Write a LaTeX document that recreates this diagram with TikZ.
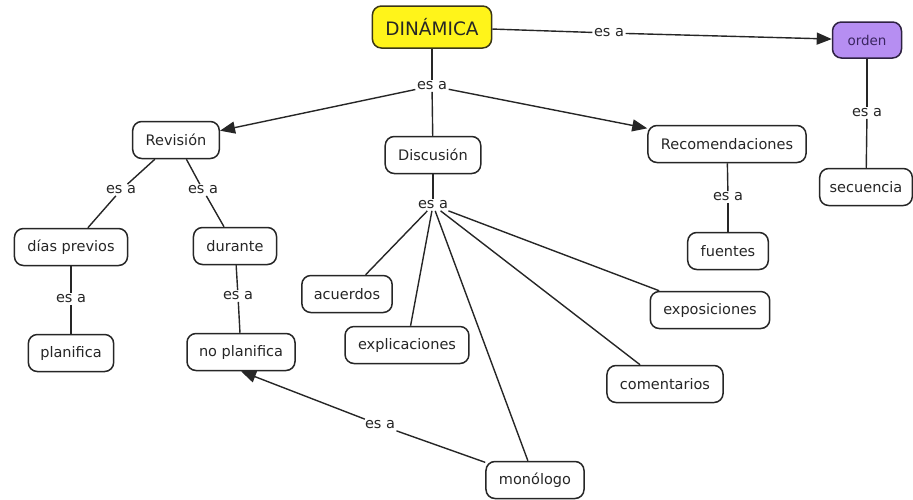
\documentclass[tikz,border=0pt]{standalone}
\usepackage{fontspec}
\setmainfont{DejaVu Sans}
\usetikzlibrary{arrows.meta}
\definecolor{ink}{HTML}{262626}
\definecolor{yellowfill}{HTML}{FFF41A}
\definecolor{yellowline}{HTML}{3A3615}
\definecolor{purplefill}{HTML}{B68EF2}
\definecolor{purpleline}{HTML}{2E2142}
\definecolor{purpletext}{HTML}{3A2560}
\begin{document}
\begin{tikzpicture}[x=1pt,y=-1pt,
  concept/.style={draw=ink, line width=1.5pt, rounded corners=9pt, fill=white,
    text=ink, font=\fontsize{14.5}{17}\selectfont, inner xsep=13pt, inner ysep=0pt,
    minimum height=37pt},
  linkword/.style={text=ink, font=\fontsize{14.5}{17}\selectfont, inner sep=1.5pt},
  conn/.style={draw=ink, line width=1.4pt},
  arr/.style={conn, -{Triangle[length=15pt,width=12pt]}}]
\useasboundingbox (0,0) rectangle (913,499);

% concepts
\node[concept, fill=yellowfill, draw=yellowline, font=\fontsize{18.5}{21}\selectfont,
      minimum width=119pt, minimum height=42pt] (din) at (432,27) {DINÁMICA};
\node[concept, fill=purplefill, draw=purpleline, text=purpletext,
      font=\fontsize{13.5}{16}\selectfont, minimum width=69pt, minimum height=36pt] (ord) at (867,40) {orden};
\node[concept] (rev) at (176,140) {Revisión};
\node[concept] (dis) at (433,155) {Discusión};
\node[concept] (rec) at (727,144) {Recomendaciones};
\node[concept, inner xsep=10pt] (sec) at (866,187) {secuencia};
\node[concept] (dias) at (71,247) {días previos};
\node[concept] (dur) at (235,246) {durante};
\node[concept] (fue) at (728,251) {fuentes};
\node[concept, inner xsep=12pt] (acu) at (347,294) {acuerdos};
\node[concept] (expl) at (407,345) {explicaciones};
\node[concept] (expo) at (710,310) {exposiciones};
\node[concept, inner xsep=12pt] (plan) at (71,353) {planifica};
\node[concept, inner xsep=12pt] (noplan) at (241,352) {no planifica};
\node[concept] (com) at (665,384) {comentarios};
\node[concept] (mon) at (535,480) {monólogo};

% linking phrases
\node[linkword] (l1) at (609,33) {es a};
\node[linkword] (l2) at (432,86) {es a};
\node[linkword] (l3) at (121,190) {es a};
\node[linkword] (l4) at (203,190) {es a};
\node[linkword] (l5) at (71,299) {es a};
\node[linkword] (l6) at (238,296) {es a};
\node[linkword] (l7) at (433,205) {es a};
\node[linkword] (l8) at (728,197) {es a};
\node[linkword] (l9) at (867,113) {es a};
\node[linkword] (l10) at (380,425) {es a};

% connections
\draw[conn] (din) -- (l1);
\draw[arr] (l1) -- (ord);

\draw[conn] (din) -- (l2);
\draw[arr] (l2) -- (rev);
\draw[conn] (l2) -- (dis);
\draw[arr] (l2) -- (rec);

\draw[conn] (rev) -- (l3);
\draw[conn] (l3) -- (dias);
\draw[conn] (rev) -- (l4);
\draw[conn] (l4) -- (dur);

\draw[conn] (dias) -- (l5);
\draw[conn] (l5) -- (plan);
\draw[conn] (dur) -- (l6);
\draw[conn] (l6) -- (noplan);

\draw[conn] (dis) -- (l7);
\draw[conn] (l7) -- (acu);
\draw[conn] (l7) -- (expl);
\draw[conn] (l7) -- (mon);
\draw[conn] (l7) -- (com);
\draw[conn] (l7) -- (expo);

\draw[conn] (rec) -- (l8);
\draw[conn] (l8) -- (fue);

\draw[conn] (ord) -- (l9);
\draw[conn] (l9) -- (sec);

\draw[conn] (mon) -- (l10);
\draw[arr] (l10) -- (noplan.south);
\end{tikzpicture}
\end{document}
